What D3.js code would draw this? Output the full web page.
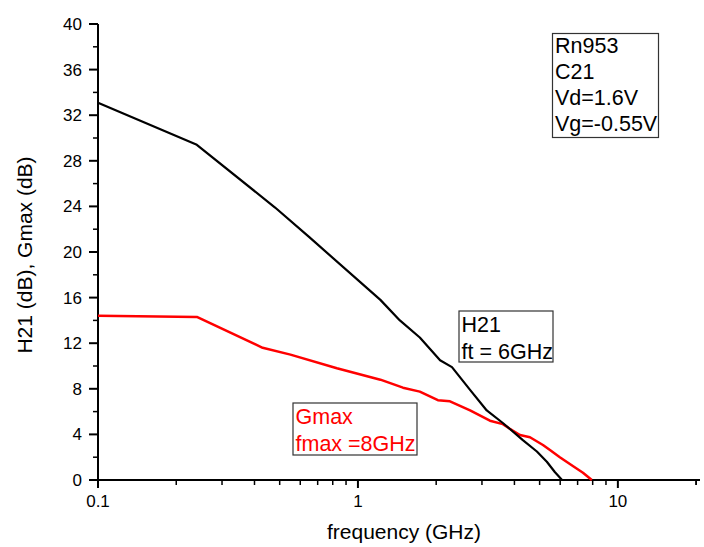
<!DOCTYPE html>
<html>
<head>
<meta charset="utf-8">
<script src="https://cdn.jsdelivr.net/npm/d3@7"></script>
<style>
  html, body { margin: 0; padding: 0; background: #fff; }
  svg { display: block; font-family: "Liberation Sans", Arial, sans-serif; }
</style>
</head>
<body>
<svg id="chart" width="704" height="547"></svg>
<script>
// Frequency sweep (GHz) and measured gains (dB)
const h21Freq = [0.1, 0.24, 0.48, 0.65, 1.22, 1.45, 1.73, 2.07, 2.30, 2.70, 3.13, 3.61, 4.31, 4.88, 5.33, 5.72, 6.1];
const h21Gain = [33.1, 29.4, 23.9, 21.3, 15.8, 14.0, 12.5, 10.5, 9.9, 7.9, 6.1, 5.0, 3.5, 2.5, 1.6, 0.7, 0.0];

const gmaxFreq = [0.1, 0.24, 0.43, 0.55, 0.83, 1.22, 1.49, 1.73, 2.03, 2.26, 2.70, 3.22, 3.61, 3.84, 4.20, 4.59, 5.15, 5.48, 5.98, 6.71, 7.34, 7.94];
const gmaxGain = [14.4, 14.3, 11.6, 11.0, 9.8, 8.8, 8.1, 7.75, 7.0, 6.9, 6.1, 5.2, 4.9, 4.5, 3.95, 3.75, 3.07, 2.63, 2.0, 1.23, 0.64, 0.0];

const xMajorTicks = [0.1, 1, 10];
const xTickLabels = ["0.1", "1", "10"];
const yMajorTicks = [0, 4, 8, 12, 16, 20, 24, 28, 32, 36, 40];

const infoLines = ["Rn953", "C21", "Vd=1.6V", "Vg=-0.55V"];
const h21Lines = ["H21", "ft = 6GHz"];
const gmaxLines = ["Gmax", "fmax =8GHz"];

const xTitle = "frequency (GHz)";
const yTitle = "H21 (dB), Gmax (dB)";

const svg = d3.select("#chart");

const x = d3.scaleLog().domain([0.1, 20.7]).range([98, 700]);
const y = d3.scaleLinear().domain([0, 40]).range([480, 24]);

// minor ticks: 2..9 within each decade, plus 20
const xMinor = [];
[0.1, 1, 10].forEach(d => { for (let k = 2; k <= 9; k++) xMinor.push(d * k); });
xMinor.push(20);
const yMinor = d3.range(2, 40, 4);

// x axis
const xAxis = svg.append("g").attr("transform", "translate(0,480)");
xAxis.append("line").attr("x1", 97).attr("x2", 700).attr("stroke", "#000").attr("stroke-width", 2);
xAxis.selectAll(".minor").data(xMinor).join("line")
  .attr("x1", d => x(d)).attr("x2", d => x(d)).attr("y1", 0).attr("y2", 5)
  .attr("stroke", "#000").attr("stroke-width", 1.5);
xAxis.selectAll(".major").data(xMajorTicks).join("line")
  .attr("x1", d => x(d)).attr("x2", d => x(d)).attr("y1", 0).attr("y2", 8)
  .attr("stroke", "#000").attr("stroke-width", 2);
xAxis.selectAll(".lbl").data(xMajorTicks).join("text")
  .attr("x", d => x(d)).attr("y", 27).attr("text-anchor", "middle")
  .attr("font-size", 17).attr("fill", "#000")
  .text((d, i) => xTickLabels[i]);

// y axis
const yAxis = svg.append("g").attr("transform", "translate(98,0)");
yAxis.append("line").attr("y1", 24).attr("y2", 481).attr("stroke", "#000").attr("stroke-width", 2);
yAxis.selectAll(".minor").data(yMinor).join("line")
  .attr("y1", d => y(d)).attr("y2", d => y(d)).attr("x1", 0).attr("x2", -5)
  .attr("stroke", "#000").attr("stroke-width", 1.5);
yAxis.selectAll(".major").data(yMajorTicks).join("line")
  .attr("y1", d => y(d)).attr("y2", d => y(d)).attr("x1", 0).attr("x2", -9)
  .attr("stroke", "#000").attr("stroke-width", 2);
yAxis.selectAll(".lbl").data(yMajorTicks).join("text")
  .attr("x", -16).attr("y", d => y(d) + 6).attr("text-anchor", "end")
  .attr("font-size", 17).attr("fill", "#000")
  .text(d => d);

// axis titles
svg.append("text").attr("x", 404).attr("y", 539).attr("text-anchor", "middle")
  .attr("font-size", 21).attr("fill", "#000").text(xTitle);
svg.append("text").attr("transform", "translate(32,255) rotate(-90)").attr("text-anchor", "middle")
  .attr("font-size", 21).attr("fill", "#000").text(yTitle);

// curves
const line = d3.line().x(d => x(d[0])).y(d => y(d[1]));
svg.append("path").datum(d3.zip(gmaxFreq, gmaxGain)).attr("d", line)
  .attr("fill", "none").attr("stroke", "#ff0000").attr("stroke-width", 2.5).attr("stroke-linejoin", "round");
svg.append("path").datum(d3.zip(h21Freq, h21Gain)).attr("d", line)
  .attr("fill", "none").attr("stroke", "#000").attr("stroke-width", 2.2).attr("stroke-linejoin", "round");

// annotation boxes
function textBox(x0, y0, w, h, lines, color, firstBase, step) {
  const g = svg.append("g");
  g.append("rect").attr("x", x0).attr("y", y0).attr("width", w).attr("height", h)
    .attr("fill", "#fff").attr("stroke", "#333").attr("stroke-width", 1.2);
  g.selectAll("text").data(lines).join("text")
    .attr("x", x0 + 2.5).attr("y", (d, i) => firstBase + i * step)
    .attr("font-size", 21.5).attr("fill", color).text(d => d);
}
textBox(552.5, 33.5, 106, 104, infoLines, "#000", 52.5, 26.2);
textBox(459, 311, 94, 51, h21Lines, "#000", 332, 26.5);
textBox(293, 403, 124, 52, gmaxLines, "#ff0000", 424, 26.5);
</script>
</body>
</html>
